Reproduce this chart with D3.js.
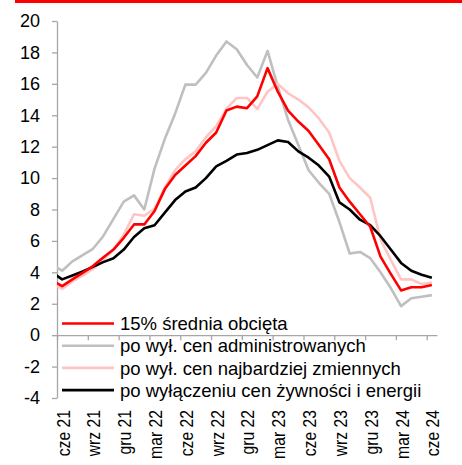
<!DOCTYPE html>
<html>
<head>
<meta charset="utf-8">
<script src="https://cdn.jsdelivr.net/npm/d3@7"></script>
<style>
  body { margin: 0; background: #fff; }
  svg { font-family: Arial, "Liberation Sans", sans-serif; }
</style>
</head>
<body>
<div class="chart"></div>
<script>
//Months (first one only sticks out past the left edge of the plot)
var months = ["maj 21", "cze 21", "lip 21", "sie 21", "wrz 21", "paź 21", "lis 21", "gru 21",
    "sty 22", "lut 22", "mar 22", "kwi 22", "maj 22", "cze 22", "lip 22", "sie 22", "wrz 22", "paź 22", "lis 22", "gru 22",
    "sty 23", "lut 23", "mar 23", "kwi 23", "maj 23", "cze 23", "lip 23", "sie 23", "wrz 23", "paź 23", "lis 23", "gru 23",
    "sty 24", "lut 24", "mar 24", "kwi 24", "maj 24", "cze 24"];

var tickLabels = ["cze 21", "wrz 21", "gru 21", "mar 22", "cze 22", "wrz 22", "gru 22",
    "mar 23", "cze 23", "wrz 23", "gru 23", "mar 24", "cze 24"];

var yTicks = [-4, -2, 0, 2, 4, 6, 8, 10, 12, 14, 16, 18, 20];

//Series values
var trimmed = [3.5, 3.12, 3.55, 3.97, 4.4, 4.95, 5.45, 6.2, 7.05, 7.05, 7.9, 9.3, 10.2, 10.8, 11.4, 12.25, 12.9,
    14.3, 14.55, 14.45, 15.2, 17.0, 15.5, 14.3, 13.6, 13.0, 12.1, 11.2, 9.4, 8.5, 7.7, 6.9, 5.0, 3.9, 2.85, 3.05, 3.05, 3.2];
var exAdmin = [4.5, 4.1, 4.7, 5.1, 5.5, 6.3, 7.4, 8.5, 8.9, 8.0, 10.6, 12.5, 14.1, 15.95, 15.95, 16.7, 17.8,
    18.7, 18.2, 17.2, 16.4, 18.1, 15.8, 13.7, 12.1, 10.5, 9.7, 9.0, 7.2, 5.2, 5.3, 4.9, 4.0, 3.0, 1.85, 2.35, 2.45, 2.55];
var exVolatile = [3.3, 2.95, 3.4, 3.8, 4.2, 4.8, 5.45, 6.4, 7.7, 7.6, 8.05, 9.4, 10.5, 11.2, 11.7, 12.6, 13.3,
    14.4, 15.1, 15.1, 14.4, 15.5, 16.0, 15.4, 15.0, 14.5, 13.8, 12.9, 11.1, 10.0, 9.4, 8.75, 6.1, 4.8, 3.55, 3.55, 3.25, 3.35];
var exFoodEnergy = [4.0, 3.55, 3.8, 4.05, 4.35, 4.65, 4.9, 5.45, 6.25, 6.8, 7.0, 7.8, 8.6, 9.15, 9.4, 10.0, 10.75,
    11.1, 11.5, 11.6, 11.8, 12.1, 12.4, 12.3, 11.7, 11.3, 10.8, 10.1, 8.45, 8.0, 7.35, 7.0, 6.3, 5.45, 4.6, 4.1, 3.85, 3.65];

var seriesNames = ["15% średnia obcięta", "po wył. cen administrowanych",
    "po wył. cen najbardziej zmiennych", "po wyłączeniu cen żywności i energii"];

//Width and height
var w = 462;
var h = 465;
var plotLeft = 57, plotRight = 437, plotTop = 21, plotBottom = 398;

var svg = d3.select(".chart")
    .append("svg")
    .attr("width", w)
    .attr("height", h);

//Red strip on top
svg.append("rect")
    .attr("x", 15)
    .attr("y", 0)
    .attr("width", w - 15)
    .attr("height", 3)
    .attr("fill", "#ff0000");

//Scales (month index, cze 21 = 1)
var xScale = d3.scaleLinear()
    .domain([0.5, 37.5])
    .range([plotLeft, plotRight]);

var yScale = d3.scaleLinear()
    .domain([-4, 20])
    .range([plotBottom, plotTop]);

//Y axis (plain hyphen for negatives, like the original)
var yAxis = d3.axisLeft(yScale)
    .tickValues(yTicks)
    .tickFormat(d => String(d))
    .tickSize(5)
    .tickSizeOuter(0)
    .tickPadding(12);
var gy = svg.append("g")
    .attr("transform", "translate(" + plotLeft + ",0)")
    .call(yAxis);
gy.select(".domain").attr("stroke", "#a6a6a6").attr("stroke-width", 1.3);
gy.selectAll(".tick line").attr("stroke", "#a6a6a6").attr("stroke-width", 1.3);
gy.selectAll(".tick text").attr("font-size", 18).attr("fill", "#000");

//X axis at zero, ticks between quarters
var boundaries = d3.range(0.5, 38, 3);
var xAxis = d3.axisBottom(xScale)
    .tickValues(boundaries)
    .tickFormat("")
    .tickSize(5)
    .tickSizeOuter(0);
var gx = svg.append("g")
    .attr("transform", "translate(0," + yScale(0) + ")")
    .call(xAxis);
gx.select(".domain").attr("stroke", "#a6a6a6").attr("stroke-width", 1.3);
gx.selectAll(".tick line").attr("stroke", "#a6a6a6").attr("stroke-width", 1.3);

//Month labels at the bottom (a bit condensed along the text)
svg.selectAll(".xlab")
    .data(tickLabels)
    .enter()
    .append("text")
    .attr("class", "xlab")
    .attr("transform", d => "translate(" + (xScale(months.indexOf(d)) + 1) + ",410) rotate(-90) scale(0.85,1)")
    .attr("text-anchor", "end")
    .attr("dy", "0.35em")
    .attr("font-size", 18.5)
    .text(d => d);

//Clip lines to plot area
svg.append("clipPath")
    .attr("id", "plot")
    .append("rect")
    .attr("x", plotLeft)
    .attr("y", 0)
    .attr("width", plotRight - plotLeft)
    .attr("height", h);

var line = d3.line()
    .x((d, i) => xScale(i))
    .y(d => yScale(d));

var series = [
    { name: seriesNames[1], values: exAdmin, color: "#bfbfbf" },
    { name: seriesNames[2], values: exVolatile, color: "#ffc5c5" },
    { name: seriesNames[3], values: exFoodEnergy, color: "#000000" },
    { name: seriesNames[0], values: trimmed, color: "#ff0000" }
];

svg.append("g")
    .attr("clip-path", "url(#plot)")
    .selectAll("path")
    .data(series)
    .enter()
    .append("path")
    .attr("d", d => line(d.values))
    .attr("fill", "none")
    .attr("stroke", d => d.color)
    .attr("stroke-width", 2.6)
    .attr("stroke-linejoin", "round");

//Legend
var legendColors = ["#ff0000", "#bfbfbf", "#ffc5c5", "#000000"];
var legend = svg.selectAll(".legend")
    .data(seriesNames)
    .enter()
    .append("g")
    .attr("class", "legend")
    .attr("transform", (d, i) => "translate(62," + (323.5 + i * 22.2) + ")");

legend.append("line")
    .attr("x1", 0)
    .attr("x2", 52)
    .attr("stroke", (d, i) => legendColors[i])
    .attr("stroke-width", 2.6);

legend.append("text")
    .attr("x", 58)
    .attr("dy", "0.36em")
    .attr("font-size", 18.5)
    .text(d => d);
</script>
</body>
</html>
